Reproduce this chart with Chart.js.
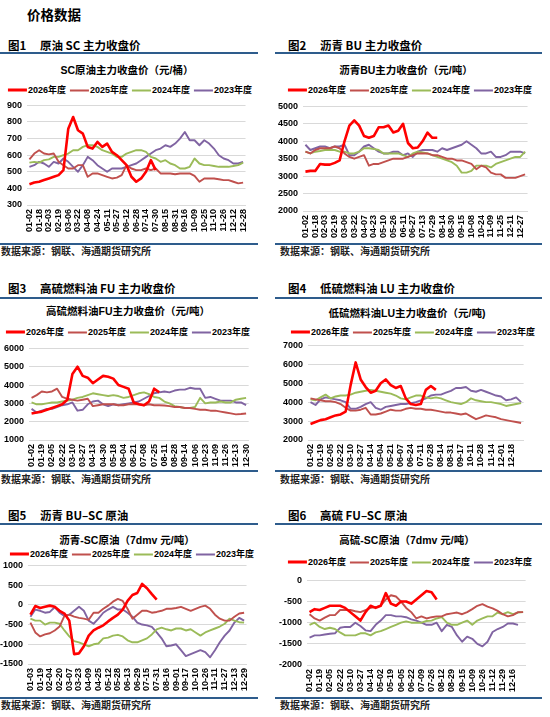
<!DOCTYPE html>
<html><head><meta charset="utf-8">
<script src="https://cdn.jsdelivr.net/npm/chart.js@4.4.1/dist/chart.umd.min.js"></script>
<style>
html,body{margin:0;padding:0;background:#fff;}
body{width:550px;height:717px;position:relative;overflow:hidden;font-family:"Liberation Sans","Noto Sans CJK SC",sans-serif;color:#000;}
.hline{position:absolute;height:2px;background:#2E5C8C;}
.t{position:absolute;white-space:nowrap;line-height:1;transform:translateY(-50%);}
.big{font-family:"Noto Sans CJK SC",sans-serif;font-weight:bold;font-size:13.5px;}
.hdr{font-family:"Noto Sans CJK SC",sans-serif;font-weight:bold;font-size:11.5px;}
.src{font-family:"Noto Sans CJK SC",sans-serif;font-weight:bold;font-size:10px;color:#222;}
.ttl{position:absolute;white-space:nowrap;line-height:1;transform:translate(-50%,-50%);font-weight:bold;font-size:10.5px;}
.lg{position:absolute;display:flex;align-items:center;transform:translate(-50%,-50%);white-space:nowrap;font-size:9px;font-weight:bold;line-height:1;}
.lg .it{display:flex;align-items:center;margin:0 2px;}
.lg .sw{display:inline-block;width:19px;margin-right:1px;}
canvas{position:absolute;}
</style>
</head><body>
<div class="t big" style="left:27px;top:15px;">价格数据</div>
<div id="deco"></div>
<canvas id="c1"></canvas><canvas id="c2"></canvas><canvas id="c3"></canvas>
<canvas id="c4"></canvas><canvas id="c5"></canvas><canvas id="c6"></canvas>
<script>
// ---------- DATA ----------
const seriesNames = ['2026年度','2025年度','2024年度','2023年度'];

const p1Ticks = ['01-02','01-18','02-03','02-19','03-06','03-22','04-08','04-24','05-11','05-27','06-12','06-28','07-14','07-30','08-15','08-31','09-16','10-09','10-25','11-10','11-26','12-12','12-28'];
const p1Y2026 = [425,435,440,450,460,470,480,510,760,830,750,730,650,640,680,650,670,620,600,570,540,470,440,460,500,570,510];
const p1Y2025 = [575,610,630,610,605,610,560,540,520,520,540,540,470,490,490,480,470,460,465,480,540,520,510,510,520,510,520,490,490,490,485,490,490,490,475,440,460,460,460,455,450,450,440,430,435];
const p1Y2024 = [555,560,555,570,575,590,590,600,610,630,630,650,660,660,650,630,620,610,590,590,610,620,630,630,620,590,580,560,570,550,540,520,520,530,580,550,540,540,535,530,530,530,535,540,555];
const p1Y2023 = [530,540,560,550,530,560,550,580,560,530,500,540,590,570,540,520,500,520,520,520,530,540,550,570,590,610,630,640,660,650,670,700,740,690,690,660,690,670,640,600,580,570,550,550,560];

const p2Ticks = ['01-02','01-18','02-03','02-19','03-06','03-22','04-07','04-23','05-10','05-26','06-11','06-27','07-13','07-29','08-14','08-30','09-15','10-08','10-24','11-09','11-25','12-11','12-27'];
const p2Y2026 = [3130,3150,3150,3350,3330,3330,3380,3450,4000,4450,4600,4450,4150,4100,4150,4400,4400,4450,4250,4300,4500,3950,3800,3820,4000,4250,4100,4100];
const p2Y2025 = [3700,3650,3750,3800,3800,3800,3850,3800,3650,3550,3500,3550,3600,3300,3350,3350,3400,3450,3500,3500,3500,3550,3600,3650,3650,3650,3600,3600,3550,3500,3500,3450,3450,3400,3350,3200,3300,3250,3100,3050,3050,2950,2950,2950,3000,3050];
const p2Y2024 = [3700,3650,3700,3720,3750,3750,3750,3700,3700,3650,3650,3700,3800,3800,3780,3750,3650,3650,3650,3650,3600,3550,3650,3700,3680,3650,3600,3550,3500,3450,3400,3300,3100,3100,3150,3300,3300,3300,3250,3350,3400,3450,3500,3550,3550,3700];
const p2Y2023 = [3900,3750,3800,3850,3850,3800,3850,3850,3900,3600,3600,3700,3850,3900,3800,3700,3650,3650,3700,3700,3600,3650,3550,3700,3750,3750,3750,3700,3800,3750,3800,3850,3900,4000,3900,3800,3650,3650,3700,3550,3550,3600,3700,3700,3700,3650];

const p3Ticks = ['01-02','01-19','02-05','02-22','03-10','03-27','04-13','04-30','05-18','06-04','06-21','07-08','07-25','08-11','08-28','09-14','10-06','10-23','11-09','11-26','12-13','12-30'];
const p3Y2026 = [2450,2500,2550,2650,2750,2850,2950,3200,4600,5000,4500,4400,4100,4300,4500,4450,4350,4000,3900,3800,3050,2950,2900,3100,3800,3600];
const p3Y2025 = [3300,3450,3650,3600,3650,3800,3350,3250,3200,3150,3200,3250,2850,2900,2950,2950,2950,2900,2900,2950,2950,2950,2900,2950,2900,2900,2880,2850,2800,2800,2750,2750,2700,2650,2650,2600,2600,2550,2500,2450,2400,2420,2450];
const p3Y2024 = [3050,2950,2950,3000,3050,3050,3100,3150,3200,3300,3350,3450,3550,3500,3450,3400,3450,3400,3300,3350,3450,3550,3600,3500,3350,3300,3100,3000,2850,2800,2750,2750,2800,3300,3000,3050,3050,3100,3050,3050,3200,3250,3300];
const p3Y2023 = [2700,2500,2600,2700,2700,2800,2900,2950,3050,2600,2650,2950,3100,3150,2950,2850,2950,2900,2950,3000,3050,3100,3250,3400,3550,3600,3650,3600,3700,3750,3750,3850,3800,3800,3300,3350,3250,3150,3150,3150,3050,3050,2900];

const p4Ticks = ['01-02','01-19','02-05','02-22','03-10','03-27','04-14','05-04','05-21','06-07','06-24','07-11','07-28','08-14','08-31','09-17','10-11','10-28','11-14','12-01','12-18'];
const p4Y2026 = [2850,2950,3050,3100,3200,3300,3350,3500,4900,6100,5200,4800,4500,4600,5000,5200,4900,4750,4850,4200,3900,3850,3900,4650,4850,4650];
const p4Y2025 = [4200,4150,4100,4050,4050,4000,3900,3700,3550,3550,3600,3700,3350,3350,3400,3500,3600,3550,3550,3650,3700,3650,3650,3600,3600,3550,3500,3450,3450,3400,3350,3400,3250,3100,3200,3300,3250,3200,3100,3050,3000,2950,2900];
const p4Y2024 = [4150,4100,4250,4400,4200,4300,4350,4350,4400,4500,4550,4600,4650,4600,4550,4500,4450,4350,4200,4150,4250,4350,4350,4250,4200,4250,4200,4100,4000,3950,3900,4000,4200,4100,4050,4000,4000,3950,3900,3800,3850,3900,3950];
const p4Y2023 = [4000,3850,4150,4250,4200,4150,4100,4000,3650,3650,3750,3900,4000,3700,3600,3750,3800,3850,3900,3900,3950,4000,4100,4200,4350,4400,4400,4500,4600,4750,4750,4800,4600,4550,4650,4550,4450,4350,4300,4100,4150,4250,4000];

const p5Ticks = ['01-03','01-19','02-04','02-20','03-07','03-23','04-09','04-25','05-12','05-28','06-13','06-29','07-15','07-31','08-16','09-01','09-17','10-10','10-26','11-11','11-27','12-13','12-29'];
const p5Y2026 = [-250,-30,-80,-50,-20,-50,-150,-220,-400,-1250,-1230,-1050,-780,-650,-580,-520,-420,-330,-250,-120,100,250,300,530,420,270,130];
const p5Y2025 = [-450,-700,-800,-750,-720,-650,-550,-280,-250,-300,-330,-350,-380,-200,-200,-100,-20,80,150,100,-100,-350,-250,-150,-150,-200,-180,-150,-100,-100,-80,-50,-100,-150,-100,-50,-20,-100,-250,-350,-400,-400,-300,-220,-200];
const p5Y2024 = [-350,-400,-400,-500,-450,-450,-480,-650,-800,-920,-950,-1000,-1050,-1000,-980,-850,-830,-780,-760,-800,-900,-950,-950,-900,-850,-750,-620,-580,-620,-650,-600,-600,-650,-620,-700,-780,-700,-650,-600,-550,-480,-350,-400,-440,-450];
const p5Y2023 = [-300,-120,-150,-200,-180,-60,-200,-280,-250,-150,-50,-150,-400,-480,-350,-200,-120,-50,-120,-120,-200,-300,-450,-500,-520,-560,-700,-850,-1050,-1030,-1000,-1150,-1300,-1250,-1200,-1150,-1200,-1330,-1150,-950,-780,-650,-450,-330,-400];

const p6Ticks = ['01-02','01-19','02-05','02-22','03-10','03-27','04-14','05-02','05-19','06-05','06-22','07-09','07-26','08-12','08-29','09-15','10-09','10-26','11-12','11-29','12-16'];
const p6Y2026 = [-750,-680,-700,-650,-600,-600,-600,-650,-750,-850,-950,-750,-600,-650,-600,-300,-550,-600,-500,-500,-550,-450,-350,-250,-280,-450];
const p6Y2025 = [-800,-900,-950,-880,-820,-820,-700,-700,-700,-730,-750,-700,-650,-630,-600,-450,-350,-380,-500,-650,-750,-900,-850,-900,-870,-850,-850,-800,-780,-760,-800,-750,-680,-600,-560,-620,-660,-720,-800,-850,-820,-750,-750];
const p6Y2024 = [-1050,-1000,-1100,-1150,-1120,-1150,-1230,-1300,-1300,-1300,-1250,-1250,-1300,-1230,-1200,-1150,-1100,-1050,-1000,-970,-1000,-1000,-1000,-960,-950,-900,-870,-1000,-1050,-1050,-1000,-950,-1050,-950,-900,-850,-850,-760,-800,-750,-800,-760,-750];
const p6Y2023 = [-1350,-1300,-1300,-1280,-1260,-1250,-1120,-1100,-1100,-1000,-1080,-1180,-1200,-1050,-950,-820,-820,-850,-850,-870,-920,-950,-1000,-1050,-1050,-1000,-1200,-1050,-1100,-1300,-1450,-1330,-1380,-1500,-1560,-1450,-1220,-1150,-1100,-1020,-1020,-1050];

const headerNums = ['图1','图2','图3','图4','图5','图6'];
const headerTexts = ['原油 SC 主力收盘价','沥青 BU 主力收盘价','高硫燃料油 FU 主力收盘价','低硫燃料油 LU 主力收盘价','沥青 BU–SC 原油','高硫 FU–SC 原油'];
const chartTitles = ['SC原油主力收盘价（元/桶）','沥青BU主力收盘价（元/吨）','高硫燃料油FU主力收盘价（元/吨）','低硫燃料油LU主力收盘价（元/吨)','沥青-SC原油（7dmv 元/吨）','高硫-SC原油（7dmv 元/吨）'];
const sourceText = '数据来源：钢联、海通期货研究所';

// ---------- STYLE / LAYOUT ----------
const seriesColors = ['#FF0000','#C0504D','#9BBB59','#8064A2'];
const seriesWidths = [2.6,1.9,1.9,1.9];
const FONT = "'Liberation Sans','Noto Sans CJK SC',sans-serif";

const panels = [
  {cv:'c1', ticks:p1Ticks, extra:0, data:[p1Y2026,p1Y2025,p1Y2024,p1Y2023], min:300, max:900, step:100,
   left:0, top:95, w:258, h:147, W:27, H:37, titleX:127, titleY:70, lgX:130, lgY:90},
  {cv:'c2', ticks:p2Ticks, extra:1, data:[p2Y2026,p2Y2025,p2Y2024,p2Y2023], min:2000, max:5000, step:500,
   left:275, top:96, w:265, h:146, W:28, H:31, titleX:406, titleY:70, lgX:410, lgY:90},
  {cv:'c3', ticks:p3Ticks, extra:0, data:[p3Y2026,p3Y2025,p3Y2024,p3Y2023], min:1000, max:6000, step:1000,
   left:0, top:338, w:261, h:130, W:29, H:28, titleX:128, titleY:311, lgX:128, lgY:332},
  {cv:'c4', ticks:p4Ticks, extra:2, data:[p4Y2026,p4Y2025,p4Y2024,p4Y2023], min:2000, max:7000, step:1000,
   left:275, top:335, w:261, h:133, W:33, H:28, titleX:407, titleY:313, lgX:413, lgY:332},
  {cv:'c5', ticks:p5Ticks, extra:0, data:[p5Y2026,p5Y2025,p5Y2024,p5Y2023], min:-1500, max:1000, step:500,
   left:0, top:555, w:259, h:140, W:28, H:31, titleX:127, titleY:540, lgX:132, lgY:554},
  {cv:'c6', ticks:p6Ticks, extra:2, data:[p6Y2026,p6Y2025,p6Y2024,p6Y2023], min:-2000, max:0, step:500,
   left:275, top:570, w:263, h:125, W:32, H:30, titleX:407, titleY:540, lgX:410, lgY:562}
];

const rows = [
  {hdrY:46, hdrLine:52, srcLine:243, srcY:251},
  {hdrY:289, hdrLine:297, srcLine:470, srcY:479},
  {hdrY:516, hdrLine:523, srcLine:697, srcY:705}
];
const cols = [{x:0, w:258, numX:8, txtX:40, srcX:1},{x:275, w:267, numX:288, txtX:320, srcX:280}];

// ---------- DECORATION (real text) ----------
const deco = document.getElementById('deco');
function add(html){ deco.insertAdjacentHTML('beforeend', html); }
rows.forEach((r,ri)=>{
  cols.forEach((c,ci)=>{
    const i = ri*2+ci;
    add(`<div class="hline" style="left:${c.x}px;width:${c.w}px;top:${r.hdrLine}px"></div>`);
    add(`<div class="hline" style="left:${c.x}px;width:${c.w}px;top:${r.srcLine}px"></div>`);
    add(`<div class="t hdr" style="left:${c.numX}px;top:${r.hdrY}px">${headerNums[i]}</div>`);
    add(`<div class="t hdr" style="left:${c.txtX}px;top:${r.hdrY}px">${headerTexts[i]}</div>`);
    add(`<div class="t src" style="left:${c.srcX}px;top:${r.srcY}px">${sourceText}</div>`);
  });
});
panels.forEach((p,i)=>{
  add(`<div class="ttl" style="left:${p.titleX}px;top:${p.titleY}px">${chartTitles[i]}</div>`);
  let items = seriesNames.map((n,k)=>`<span class="it"><span class="sw" style="height:${k===0?3:2}px;background:${seriesColors[k]}"></span>${n}</span>`).join('');
  add(`<div class="lg" style="left:${p.lgX}px;top:${p.lgY}px">${items}</div>`);
});

// ---------- CHARTS ----------
function expandLabels(ticks, extra){
  const out=[];
  ticks.forEach((t,i)=>{ out.push(t); if(i<ticks.length-1) out.push(''); });
  for(let i=0;i<extra;i++) out.push('');
  return out;
}
panels.forEach(p=>{
  const cv = document.getElementById(p.cv);
  cv.style.left = p.left+'px'; cv.style.top = p.top+'px';
  cv.width = p.w; cv.height = p.h;
  cv.style.width = p.w+'px'; cv.style.height = p.h+'px';
  new Chart(cv, {
    type:'line',
    data:{
      labels: expandLabels(p.ticks, p.extra),
      datasets: p.data.map((d,k)=>({
        label: seriesNames[k], data: d,
        borderColor: seriesColors[k], backgroundColor: seriesColors[k],
        borderWidth: seriesWidths[k], pointRadius:0, tension:0, fill:false,
        borderJoinStyle:'round', order: k
      }))
    },
    options:{
      responsive:false, animation:false,
      layout:{padding:{left:0, right:8, top:8, bottom:0}},
      plugins:{legend:{display:false}, title:{display:false}, tooltip:{enabled:false}},
      scales:{
        x:{
          type:'category', offset:true,
          grid:{display:false, drawTicks:false},
          border:{display:true, color:'#D9D9D9'},
          ticks:{autoSkip:false, minRotation:90, maxRotation:90, padding:4, color:'#000',
                 font:{family:FONT, size:9, weight:'bold'}},
          afterFit(s){ s.height = p.H; }
        },
        y:{
          min:p.min, max:p.max,
          grid:{color:'#D9D9D9', drawTicks:false},
          border:{display:false},
          ticks:{stepSize:p.step, padding:5, color:'#000', font:{family:FONT, size:9, weight:'bold'},
                 callback:(v)=>String(v)},
          afterFit(s){ s.width = p.W; }
        }
      }
    }
  });
});
</script>
</body></html>
